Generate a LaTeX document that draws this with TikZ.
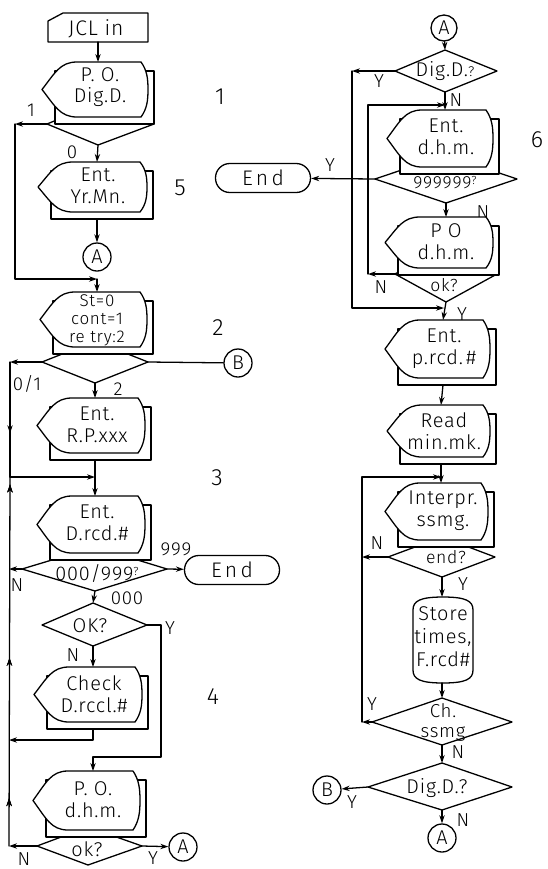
\documentclass[tikz,border=0pt]{standalone}
\usepackage{fontspec}
\setmainfont{Fira Sans Light}[LetterSpace=4]
\usetikzlibrary{arrows.meta,decorations.markings}

\tikzset{
 ln/.style={line width=1.1pt, line join=round, line cap=round},
 ar/.style={ln, -{Stealth[length=2.4mm,width=1.6mm]}},
 tx/.style={inner sep=0pt, align=center, font=\fontsize{17}{18.5}\selectfont},
 txs/.style={inner sep=0pt, align=center, font=\fontsize{15}{15}\selectfont},
 lb/.style={inner sep=0pt, font=\fontsize{16}{16}\selectfont},
 num/.style={inner sep=0pt, font=\fontsize{20}{20}\selectfont},
 circ/.style={draw, line width=1.1pt, circle, minimum size=8.4mm, inner sep=0pt, font=\fontsize{17}{17}\selectfont},
 term/.style={draw, line width=1.1pt, rounded corners=4.3mm, minimum width=28.5mm, minimum height=8.7mm, inner sep=0pt, font=\fontsize{18}{18}\selectfont\addfontfeature{LetterSpace=16}},
 arrowmark/.style={postaction={decorate}, decoration={markings, mark=at position #1 with {\arrow{Stealth[length=2.4mm,width=1.6mm]}}}},
}

\newcommand\dispbox[6]{%
 \draw[ln,fill=white] ({#3+13},{#5+9}) rectangle ({#4+6},{#6+7});
 \draw[ln,fill=white] (#3,{(#5+#6)/2}) .. controls ({#3+13},{(#5+#6)/2-0.3*(#6-#5)}) and ({#3+18},#5) .. ({#3+35},#5) -- ({#4-7},#5) .. controls ({#4-1},{#5+0.15*(#6-#5)}) and (#4,{(#5+#6)/2-0.2*(#6-#5)}) .. (#4,{(#5+#6)/2}) .. controls (#4,{(#5+#6)/2+0.2*(#6-#5)}) and ({#4-1},{#6-0.15*(#6-#5)}) .. ({#4-7},#6) -- ({#3+35},#6) .. controls ({#3+18},#6) and ({#3+13},{(#5+#6)/2+0.3*(#6-#5)}) .. cycle;
 \coordinate (#1-t) at (#2,#5);
 \coordinate (#1-b) at (#2,{#6+7});
}
\newcommand\hdia[6]{%
 \draw[ln,fill=white] (#2,#4) -- (#5,{2*#4-#6}) -- (#3,#4) -- (#5,#6) -- cycle;
 \coordinate (#1-l) at (#2,#4);
 \coordinate (#1-r) at (#3,#4);
 \coordinate (#1-b) at (#5,#6);
}
\newcommand\fdia[7]{%
 \draw[ln,fill=white] (#2,#4) -- (#5,#6) -- (#3,#4) -- (#5,#7) -- cycle;
 \coordinate (#1-l) at (#2,#4);
 \coordinate (#1-r) at (#3,#4);
 \coordinate (#1-t) at (#5,#6);
 \coordinate (#1-b) at (#5,#7);
}
\newcommand\smq{\raisebox{0.45ex}{\fontsize{10}{10}\selectfont ?}}

\begin{document}
\begin{tikzpicture}[x=0.3mm,y=-0.3mm]
\useasboundingbox (0,0) rectangle (548,869);

% ================= LEFT COLUMN =================
\draw[ln] (48,42) -- (48,21) -- (63,13) -- (148,13) -- (148,42) -- cycle;
\node[tx, font=\fontsize{18}{18}\selectfont] (jcl) at (96,29) {JCL in};
\coordinate (jcl-b) at (98,42);

\hdia{d1}{47}{154}{124}{98}{145}
\dispbox{p1}{98}{42}{148}{62}{117}
\node[tx] (p1x) at (100,87) {P. O.\\Dig.D.};
\draw[ar] (jcl-b) -- (p1-t);

\node[lb] (l1) at (31,110) {1};
\node[num] (n1) at (220,97) {1};
\coordinate (c1a) at (15,124);
\coordinate (c1b) at (15,279);
\coordinate (j1) at (97,279);
\draw[ar] (d1-l) -- (c1a);
\draw[ar] (c1a) -- (c1b) -- (j1);

\node[lb] (l0) at (72,152) {0};
\dispbox{p2}{97}{38}{147}{162}{212}
\node[tx] (p2x) at (98,186) {Ent.\\Yr.Mn.};
\draw[ar] (d1-b) -- (p2-t);
\node[num] (n5) at (180,188) {5};
\node[circ] (A1) at (97,257) {A};
\draw[ar] (p2-b) -- (A1);

\hdia{d2}{42}{148}{362}{95}{383}
\dispbox{p3}{97}{40}{147}{292}{347}
\node[inner sep=0pt, align=center, font=\fontsize{14.5}{15.5}\selectfont] (p3x) at (97,320) {St=0\\cont=1\\re try:2};
\draw[ar] (j1) -- (p3-t);
\node[num] (n2) at (218,328) {2};
\node[circ] (B1) at (238,363) {B};
\draw[ln] (d2-r) -- (B1);
\coordinate (c2a) at (10,362);
\coordinate (c2b) at (10,477);
\coordinate (j2) at (95,477);
\draw[ar] (d2-l) -- (c2a);
\draw[ln, arrowmark=0.62] (c2a) -- (c2b);
\draw[ar] (c2b) -- (j2);
\node[lb] (l01) at (27,384) {0/1};
\node[lb] (l2) at (118,389) {2};

\dispbox{p4}{95}{37}{145}{398}{453}
\node[tx] (p4x) at (97,425) {Ent.\\R.P.xxx};
\draw[ar] (d2-b) -- (p4-t);
\draw[ln] (p4-b) -- (j2);
\node[num] (n3) at (217,478) {3};

\hdia{d3}{22}{167}{569}{95}{591}
\dispbox{p5}{95}{37}{145}{496}{553}
\node[tx] (p5x) at (97,523) {Ent.\\D.rcd.\#};
\draw[ar] (j2) -- (p5-t);
\node[tx] (d3x) at (97,573) {000/999\smq};
\node[term] (end1) at (232,570) {End};
\draw[ar] (d3-r) -- (end1);
\node[lb] (l999) at (176,549) {999};
\coordinate (c3) at (9,569);
\draw[ar] (d3-l) -- (c3);
\node[lb] (lN1) at (17,585) {N};
\node[lb] (l000) at (127,598) {000};

\fdia{d4}{42}{147}{625}{93}{603}{646}
\node[tx] (d4x) at (90,626) {OK?};
\draw[ar] (d3-b) -- (d4-t);
\coordinate (c4a) at (161,625);
\coordinate (c4b) at (161,757);
\coordinate (c4c) at (93,757);
\node[lb] (lY1) at (170,628) {Y};
\node[lb] (lN2) at (73,655) {N};

\dispbox{p6}{93}{34}{142}{667}{722}
\node[tx] (p6x) at (94,694) {Check\\D.rccl.\#};
\draw[ar] (d4-b) -- (p6-t);
\coordinate (c6a) at (93,740);
\coordinate (c6b) at (9,740);
\draw[ar] (p6-b) -- (c6a) -- (c6b);
\node[num] (n4) at (213,697) {4};

\hdia{d5}{37}{142}{846}{88}{865}
\dispbox{p7}{93}{33}{140}{771}{830}
\node[tx] (p7x) at (93,800) {P. O.\\d.h.m.};
\draw[ar] (d4-r) -- (c4a) -- (c4b) -- (c4c) -- (p7-t);
\node[tx] (d5x) at (87,849) {ok?};
\node[circ] (A2) at (183,847) {A};
\draw[ar] (d5-r) -- (A2);
\node[lb] (lY2) at (153,858) {Y};
\coordinate (c7) at (9,846);
\draw[ar] (d5-l) -- (c7);
\node[lb] (lN3) at (24,859) {N};
\draw[ln, arrowmark=0.13, arrowmark=0.51, arrowmark=0.98] (c7) -- (c2b);

% ================= RIGHT COLUMN =================
\node[circ, minimum size=7.8mm] (A3) at (444,28) {A};
\fdia{d6}{395}{497}{71}{445}{50}{92}
\node[tx] (d6x) at (445,71) {Dig.D.{\fontsize{12}{12}\selectfont ?}};
\draw[ar] (A3) -- (d6-t);
\coordinate (c8a) at (352,71);
\coordinate (c8b) at (352,308);
\coordinate (j8) at (444,308);
\draw[ar] (d6-l) -- (c8a);
\draw[ar] (c8a) -- (c8b) -- (j8);
\node[lb] (lY3) at (379,81) {Y};
\node[lb] (lN4) at (456,100) {N};
\node[num] (n1b) at (537,140) {6};

\hdia{d7}{375}{517}{179}{446}{203}
\dispbox{p8}{445}{387}{493}{110}{167}
\node[tx] (p8x) at (446,137) {Ent.\\d.h.m.};
\draw[ar] (d6-b) -- (p8-t);
\node[txs] (d7x) at (445,183) {999999\smq};
\node[term] (end2) at (263,178) {End};
\draw[ar] (d7-l) -- (end2);
\node[lb] (lY4) at (330,165) {Y};
\node[lb] (lN5) at (483,212) {N};

\hdia{d8}{395}{497}{274}{446}{302}
\dispbox{p9}{446}{385}{493}{217}{268}
\node[tx] (p9x) at (446,242) {P O\\d.h.m.};
\draw[ar] (d7-b) -- (p9-t);
\node[txs] (d8x) at (444,285) {ok?};
\coordinate (c9a) at (368,274);
\coordinate (c9b) at (368,105);
\coordinate (j9) at (445,105);
\draw[ar] (d8-l) -- (c9a);
\draw[ar] (c9a) -- (c9b) -- (j9);
\node[lb] (lN6) at (381,287) {N};
\node[lb] (lY5) at (462,314) {Y};

\dispbox{p10}{443}{385}{490}{320}{378}
\node[tx] (p10x) at (444,349) {Ent.\\p.rcd.\,\#};
\draw[ar] (d8-b) -- (p10-t);

\dispbox{p11}{441}{387}{490}{405}{457}
\node[tx] (p11x) at (444,431) {Read\\min.mk.};
\draw[ar] (p10-b) -- (p11-t);
\coordinate (j11) at (441,477);
\draw[ln] (p11-b) -- (j11);

\hdia{d9}{388}{495}{557}{442}{577}
\dispbox{p12}{441}{385}{488}{483}{540}
\node[tx] (p12x) at (443,511) {Interpr.\\ssmg.};
\draw[ar] (j11) -- (p12-t);
\node[txs] (d9x) at (446,557) {end?};
\coordinate (c12a) at (362,557);
\coordinate (c12t) at (362,477);
\coordinate (c13) at (362,722);
\draw[ar] (d9-l) -- (c12a);
\draw[ln] (c13) -- (c12a);
\draw[ar] (c12a) -- (c12t) -- (j11);
\node[lb] (lN7) at (377,543) {N};
\node[lb] (lY6) at (463,584) {Y};

\draw[ln,fill=white] (413,610) .. controls (413,601) and (420,597) .. (443,597) .. controls (466,597) and (473,601) .. (473,610) -- (473,670) .. controls (473,679) and (466,683) .. (443,683) .. controls (420,683) and (413,679) .. (413,670) -- cycle;
\coordinate (store-t) at (442,597);
\coordinate (store-b) at (442,683);
\node[inner sep=0pt, align=center, font=\fontsize{17}{19.5}\selectfont] (store) at (443,637) {Store\\times,\\F.rcd\#};
\draw[ar] (d9-b) -- (store-t);

\fdia{d10}{372}{512}{722}{442}{698}{745}
\node[inner sep=0pt, align=center, font=\fontsize{16}{17}\selectfont] (d10x) at (443,722) {Ch.\\ssmg};
\draw[ar] (store-b) -- (d10-t);
\draw[ar] (d10-l) -- (c13);
\node[lb] (lY7) at (372,704) {Y};
\node[lb] (lN8) at (458,752) {N};

\fdia{d11}{368}{512}{787}{442}{763}{810}
\node[tx] (d11x) at (437,788) {Dig.D.?};
\draw[ar] (d10-b) -- (d11-t);
\node[circ] (B2) at (327,790) {B};
\draw[ar] (d11-l) -- (B2);
\node[lb] (lY8) at (352,802) {Y};
\node[lb] (lN9) at (463,820) {N};
\node[circ] (A4) at (442,838) {A};
\draw[ar] (d11-b) -- (A4);
\end{tikzpicture}
\end{document}
